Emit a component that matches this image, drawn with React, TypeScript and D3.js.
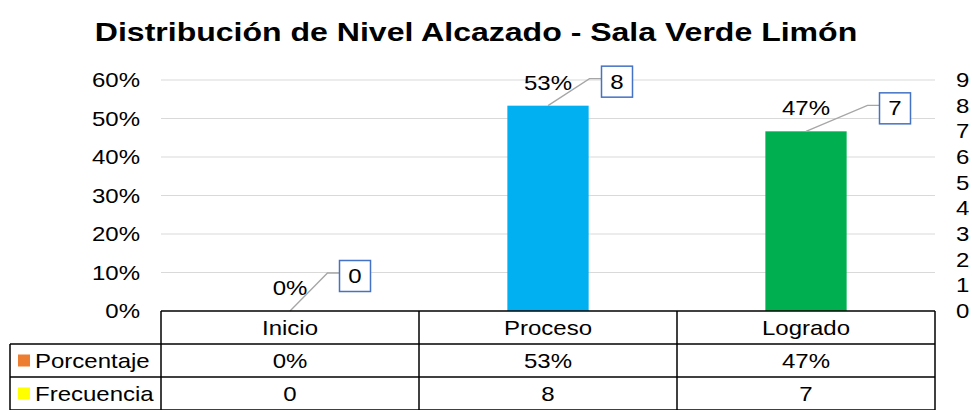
import { useEffect, useRef } from 'react'
import * as d3 from 'd3'

const categories = ['Inicio', 'Proceso', 'Logrado']
const porcentaje = [0, 0.5333, 0.4667]
const frecuencia = [0, 8, 7]
const pctTicks = [0, 0.1, 0.2, 0.3, 0.4, 0.5, 0.6]
const freqTicks = [0, 1, 2, 3, 4, 5, 6, 7, 8, 9]
const barColors = ['#ED7D31', '#00B0F0', '#00B050']
const seriesNames = ['Porcentaje', 'Frecuencia']
const seriesKeys = ['#ED7D31', '#FFFF00']
// callout offsets for the frecuencia labels (px from the data point)
const calloutOffset = [[65, -35], [69, -24], [89, -23]]

const FONT = '"Liberation Sans", Arial, sans-serif'
const SX = 1.2 // source picture is stretched horizontally

type Sel = d3.Selection<SVGSVGElement | SVGGElement, unknown, null, undefined>

function label(parent: Sel, x: number, y: number, txt: string | number, anchor = 'start', size = 20, bold = false) {
  return parent.append('text')
    .attr('transform', `translate(${x},${y}) scale(${SX},1)`)
    .attr('text-anchor', anchor)
    .attr('font-family', FONT).attr('font-size', size).attr('fill', '#000')
    .attr('font-weight', bold ? 700 : 400)
    .text(txt)
}

export default function App() {
  const ref = useRef<SVGSVGElement>(null)

  useEffect(() => {
    const W = 972, H = 410
    const pad = { l: 161, r: 37, t: 80, b: 99 }
    const svg = d3.select(ref.current!).attr('width', W).attr('height', H) as unknown as Sel
    svg.selectAll('*').remove()

    const x = d3.scaleBand().domain(categories).range([pad.l, W - pad.r]).paddingInner(0).paddingOuter(0)
    const y = d3.scaleLinear().domain([0, 0.6]).range([H - pad.b, pad.t])
    const y2 = d3.scaleLinear().domain([0, 9]).range([H - pad.b, pad.t])
    const base = H - pad.b
    const barW = x.bandwidth() * 0.315
    const pct = d3.format('.0%')

    label(svg, 476, 41, 'Distribución de Nivel Alcazado - Sala Verde Limón', 'middle', 26.7, true)

    pctTicks.forEach(t => {
      if (t > 0) {
        svg.append('line').attr('x1', pad.l).attr('x2', W - pad.r).attr('y1', y(t)).attr('y2', y(t))
          .attr('stroke', '#D9D9D9').attr('stroke-width', 1)
      }
      label(svg, 140, y(t) + 7, pct(t), 'end')
    })
    freqTicks.forEach(t => {
      label(svg, 956, y2(t) + 7, t, 'start')
    })

    categories.forEach((c, i) => {
      const cx = x(c)! + x.bandwidth() / 2
      if (porcentaje[i] > 0) {
        svg.append('rect').attr('x', cx - barW / 2).attr('y', y(porcentaje[i]))
          .attr('width', barW).attr('height', base - y(porcentaje[i])).attr('fill', barColors[i])
      }
      // percentage label
      label(svg, cx, y(porcentaje[i]) - 16, pct(porcentaje[i]), 'middle')
      // frecuencia callout
      const py = y2(frecuencia[i])
      const [dx, dy] = calloutOffset[i]
      const bx = cx + dx, by = py + dy
      const bw = 31, bh = 31
      svg.append('polyline')
        .attr('points', `${cx},${py} ${bx - bw / 2 - 12},${by - 3} ${bx - bw / 2},${by - 3}`)
        .attr('fill', 'none').attr('stroke', '#A6A6A6').attr('stroke-width', 1.3)
      svg.append('rect').attr('x', bx - bw / 2).attr('y', by - bh / 2).attr('width', bw).attr('height', bh)
        .attr('fill', '#fff').attr('stroke', '#4472C4').attr('stroke-width', 1.5)
      label(svg, bx, by + 7, frecuencia[i], 'middle')
    })

    // data table
    const rowH = 33
    const tableLeft = 10
    const rows = [porcentaje.map(d => pct(d)), frecuencia.map(String)]
    const g = svg.append('g').attr('stroke', '#000').attr('stroke-width', 1.5)
    g.append('line').attr('x1', pad.l).attr('x2', W - pad.r).attr('y1', base).attr('y2', base)
    for (let r = 1; r <= 3; r++) {
      g.append('line').attr('x1', tableLeft).attr('x2', W - pad.r).attr('y1', base + r * rowH).attr('y2', base + r * rowH)
    }
    g.append('line').attr('x1', tableLeft).attr('x2', tableLeft).attr('y1', base + rowH).attr('y2', H + 5)
    ;[pad.l, ...categories.map(c => x(c)! + x.bandwidth())].forEach(vx => {
      g.append('line').attr('x1', vx).attr('x2', vx).attr('y1', base).attr('y2', H + 5)
    })
    categories.forEach(c => {
      const cx = x(c)! + x.bandwidth() / 2
      label(svg, cx, base + rowH / 2 + 7, c, 'middle')
    })
    rows.forEach((row, r) => {
      const ry = base + rowH * (r + 1)
      svg.append('rect').attr('x', 18).attr('y', ry + rowH / 2 - 6).attr('width', 12).attr('height', 12)
        .attr('fill', seriesKeys[r])
      label(svg, 35, ry + rowH / 2 + 7, seriesNames[r])
      row.forEach((v, i) => {
        const cx = x(categories[i])! + x.bandwidth() / 2
        label(svg, cx, ry + rowH / 2 + 7, v, 'middle')
      })
    })
  }, [])

  return (
    <div style={{ position: 'absolute', left: 0, top: 0, width: 972, height: 410, background: '#fff' }}>
      <style>{'body{margin:0}'}</style>
      <svg ref={ref} style={{ display: 'block' }} />
    </div>
  )
}
